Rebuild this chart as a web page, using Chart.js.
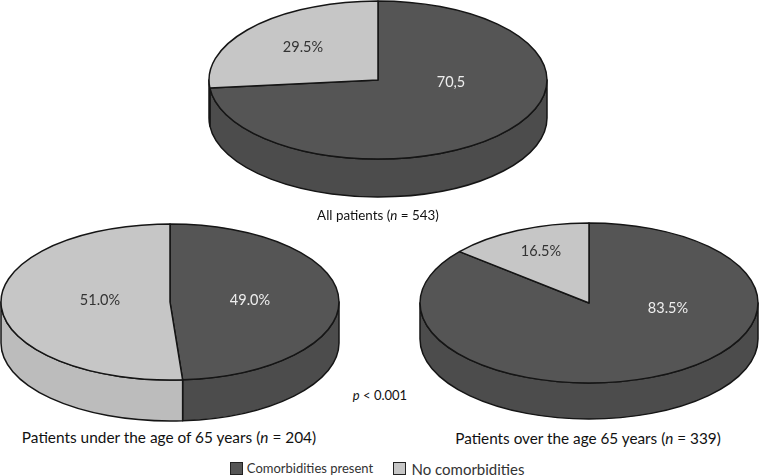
<!DOCTYPE html>
<html>
<head>
<meta charset="utf-8">
<script src="https://cdn.jsdelivr.net/npm/chart.js@4"></script>
<style>
  html, body { margin: 0; padding: 0; background: #fff; }
  #wrap { position: relative; width: 759px; height: 476px; overflow: hidden; font-family: Lato, sans-serif; color: #111; }
  canvas { position: absolute; }
  .txt { position: absolute; white-space: nowrap; transform: translate(-50%, -50%); }
  .swatch { position: absolute; width: 11px; height: 11px; border: 1px solid #222; }
</style>
</head>
<body>
<div id="wrap">
  <canvas id="pieAll"></canvas>
  <canvas id="pieUnder"></canvas>
  <canvas id="pieOver"></canvas>

  <div class="txt" style="left:378px;top:215px;font-size:13.4px">All patients (<i>n</i> = 543)</div>
  <div class="txt" style="left:169px;top:437px;font-size:15.4px">Patients under the age of 65 years (<i>n</i> = 204)</div>
  <div class="txt" style="left:588px;top:438px;font-size:15.3px">Patients over the age 65 years (<i>n</i> = 339)</div>
  <div class="txt" style="left:380px;top:395px;font-size:13px"><i>p</i> &lt; 0.001</div>

  <div class="swatch" style="left:230px;top:462px;background:#555555"></div>
  <div class="txt" style="left:310px;top:468px;font-size:13px;color:#333">Comorbidities present</div>
  <div class="swatch" style="left:393px;top:462px;background:#c6c6c6"></div>
  <div class="txt" style="left:468px;top:469px;font-size:15px;color:#333">No comorbidities</div>
</div>

<script>
// Datos
const categorias = ["Comorbidities present", "No comorbidities"];
const valoresTodos = [70.5, 29.5];
const valoresMenores = [49.0, 51.0];
const valoresMayores = [83.5, 16.5];
const etiquetasTodos = ["70,5", "29.5%"];
const etiquetasMenores = ["49.0%", "51.0%"];
const etiquetasMayores = ["83.5%", "16.5%"];

const coloresTapa = ["#555555", "#c6c6c6"];
const coloresPared = ["#4c4c4c", "#bcbcbc"];
const coloresTexto = ["#eeeeee", "#333333"];
const colorBorde = "#151515";

// Deformacion de perspectiva del pastel 3D
const perspectiva = 0.19;
const anguloVisto = a => a - perspectiva * Math.cos(a);

// Dibuja cada sector como elipse con pared frontal
const pastel3D = {
  id: "pastel3D",
  beforeDatasetDraw(chart, args, opts) {
    const ctx = chart.ctx;
    const arcos = args.meta.data;

    ctx.save();
    ctx.lineWidth = 1.5;
    ctx.lineJoin = "round";
    ctx.strokeStyle = colorBorde;

    // Paredes primero
    arcos.forEach((arco, i) => {
      const ry = arco.outerRadius;
      const rx = ry * opts.aspecto;
      const ini = Math.max(anguloVisto(arco.startAngle), 0);
      const fin = Math.min(anguloVisto(arco.endAngle), Math.PI);
      if (fin <= ini) return;
      ctx.beginPath();
      ctx.ellipse(arco.x, arco.y, rx, ry, 0, ini, fin, false);
      ctx.ellipse(arco.x, arco.y + opts.fondo, rx, ry, 0, fin, ini, true);
      ctx.closePath();
      ctx.fillStyle = coloresPared[i];
      ctx.fill();
      ctx.stroke();
    });

    // Tapa
    arcos.forEach((arco, i) => {
      const ry = arco.outerRadius;
      const rx = ry * opts.aspecto;
      ctx.beginPath();
      ctx.moveTo(arco.x, arco.y);
      ctx.ellipse(arco.x, arco.y, rx, ry, 0, anguloVisto(arco.startAngle), anguloVisto(arco.endAngle), false);
      ctx.closePath();
      ctx.fillStyle = coloresTapa[i];
      ctx.fill();
      ctx.stroke();
    });

    // Etiquetas
    ctx.font = "14.5px Lato, sans-serif";
    ctx.textAlign = "center";
    ctx.textBaseline = "middle";
    arcos.forEach((arco, i) => {
      ctx.fillStyle = coloresTexto[i];
      ctx.fillText(opts.etiquetas[i], arco.x + opts.desplaza[i][0], arco.y + opts.desplaza[i][1]);
    });
    ctx.restore();
    return false; // no dibujar los arcos circulares por defecto
  }
};

function crearPastel(id, valores, etiquetas, cx, cy, rx, ry, fondo, desplaza) {
  const canvas = document.getElementById(id);
  const margen = 1;
  const ancho = 2 * rx + 2 * margen;
  const alto = 2 * ry + fondo + 2 * margen;
  canvas.style.left = (cx - rx - margen) + "px";
  canvas.style.top = (cy - ry - margen) + "px";
  canvas.style.width = ancho + "px";
  canvas.style.height = alto + "px";
  canvas.width = ancho;
  canvas.height = alto;

  new Chart(canvas, {
    type: "pie",
    data: {
      labels: categorias,
      datasets: [{ data: valores, backgroundColor: coloresTapa, borderWidth: 0 }]
    },
    options: {
      responsive: false,
      animation: false,
      layout: { padding: { left: margen, right: margen, top: margen, bottom: fondo + margen } },
      plugins: {
        legend: { display: false },
        tooltip: { enabled: false },
        pastel3D: { aspecto: rx / ry, fondo: fondo, etiquetas: etiquetas, desplaza: desplaza }
      }
    },
    plugins: [pastel3D]
  });
}

crearPastel("pieAll", valoresTodos, etiquetasTodos, 378, 80, 169, 79, 38, [[73, 2], [-75, -33]]);
crearPastel("pieUnder", valoresMenores, etiquetasMenores, 170, 302, 169, 78, 41, [[80, -2], [-70, -2]]);
crearPastel("pieOver", valoresMayores, etiquetasMayores, 589, 303, 169, 80, 36, [[79, 5], [-48, -52]]);
</script>
</body>
</html>
